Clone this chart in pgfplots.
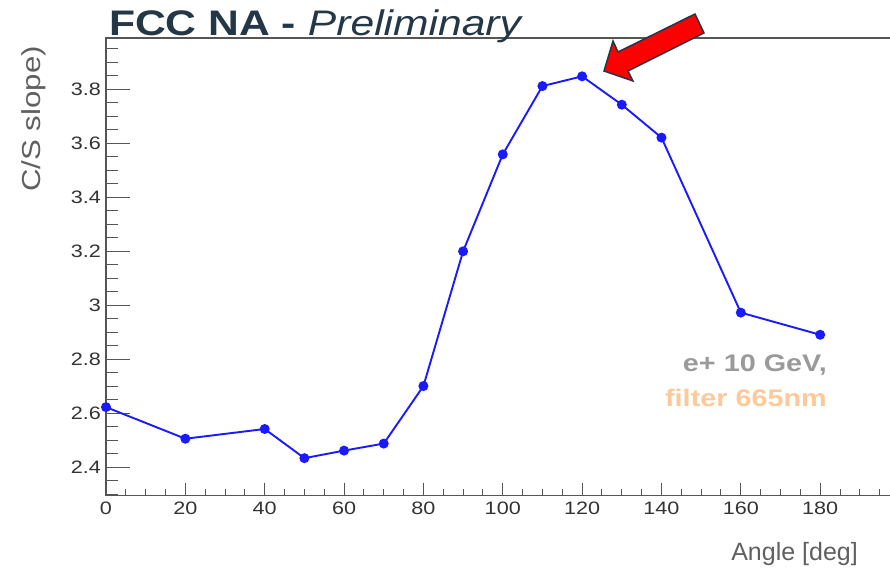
\documentclass[border=0pt]{standalone}
\usepackage{fontspec}
\setmainfont{Liberation Sans}[FakeStretch=1.2]
\newfontfamily\labelfont{Liberation Sans}
\usepackage{pgfplots}
\pgfplotsset{compat=1.18}
\definecolor{titlecol}{HTML}{243746}
\definecolor{axcol}{HTML}{555555}
\definecolor{ticklab}{HTML}{333333}
\definecolor{labcol}{HTML}{606060}
\definecolor{annogray}{HTML}{9A9A9A}
\definecolor{annoorange}{HTML}{FBC99A}
\definecolor{linecol}{HTML}{1A1AFF}
\begin{document}
\begin{tikzpicture}[x=1pt,y=1pt]
\path[use as bounding box] (0,0) rectangle (890,567);
% main axis: y ticks and data
\begin{axis}[
  at={(106pt,71.3pt)}, anchor=south west, scale only axis,
  width=784pt, height=457.7pt,
  xmin=0, xmax=197.6, ymin=2.295, ymax=3.990,
  axis x line*=bottom, axis y line*=left,
  axis line style={-, color=axcol, line width=1.2pt},
  xtick=\empty,
  ytick={2.4,2.6,2.8,3.0,3.2,3.4,3.6,3.8},
  yticklabels={2.4,2.6,2.8,3,3.2,3.4,3.6,3.8},
  minor ytick={2.30,2.35,2.45,2.50,2.55,2.65,2.70,2.75,2.85,2.90,2.95,3.05,3.10,3.15,3.25,3.30,3.35,3.45,3.50,3.55,3.65,3.70,3.75,3.85,3.90,3.95},
  tick align=inside,
  major tick length=24pt, minor tick length=12pt,
  every tick/.style={color=axcol, line width=1pt},
  yticklabel style={font=\fontsize{18}{18}\selectfont, color=ticklab, inner sep=0pt, xshift=-5pt},
  /pgf/number format/assume math mode=true,
  clip=false,
]
\addplot[color=linecol, line width=1.9pt, mark=*, mark size=4pt, mark options={fill=linecol, draw=linecol, solid}] coordinates {
(0,2.623) (20,2.506) (40,2.542) (50,2.434) (60,2.462) (70,2.488) (80,2.701) (90,3.200) (100,3.559) (110,3.812) (120,3.848) (130,3.743) (140,3.621) (160,2.973) (180,2.891)
};
\end{axis}
% second axis: x ticks
\begin{axis}[
  at={(106pt,71.3pt)}, anchor=south west, scale only axis,
  width=784pt, height=457.7pt,
  xmin=0, xmax=197.6, ymin=2.295, ymax=3.990,
  axis x line*=bottom, axis y line=none,
  axis line style={-, color=axcol, line width=1.2pt},
  ytick=\empty,
  xtick={0,20,40,60,80,100,120,140,160,180},
  minor xtick={5,10,15,25,30,35,45,50,55,65,70,75,85,90,95,105,110,115,125,130,135,145,150,155,165,170,175,185,190,195},
  tick align=inside,
  major tick length=13pt, minor tick length=7pt,
  every tick/.style={color=axcol, line width=1pt},
  xticklabel style={font=\fontsize{18}{18}\selectfont, color=ticklab, inner sep=0pt, yshift=-6pt},
  /pgf/number format/assume math mode=true,
  clip=false,
]
\end{axis}
\draw[axcol, line width=1.2pt] (105,529) -- (890,529);
% arrow
\draw[fill=red, draw=titlecol, line width=1.5pt, line join=miter]
  (604,496) -- (613,526) -- (618,515) -- (695,553) -- (704,534) -- (628,496) -- (633,486) -- cycle;
% title
\node[anchor=base west, inner sep=0pt, color=titlecol] at (109,531)
  {\fontsize{35.5}{35.5}\selectfont\textbf{FCC NA -} \textit{Preliminary}};
% annotations
\node[anchor=base east, inner sep=0pt, color=annogray, font=\fontsize{24}{24}\selectfont\bfseries] at (827,195.3) {e+ 10 GeV,};
\node[anchor=base east, inner sep=0pt, color=annoorange, font=\fontsize{24}{24}\selectfont\bfseries] at (827,160) {filter 665nm};
% axis titles
\node[anchor=base east, inner sep=0pt, color=labcol, font=\labelfont\fontsize{25}{25}\selectfont] at (858,7) {Angle [deg]};
\node[rotate=90, inner sep=0pt, color=labcol, font=\fontsize{26}{26}\selectfont] at (34,448) {C/S slope)};
\end{tikzpicture}
\end{document}
